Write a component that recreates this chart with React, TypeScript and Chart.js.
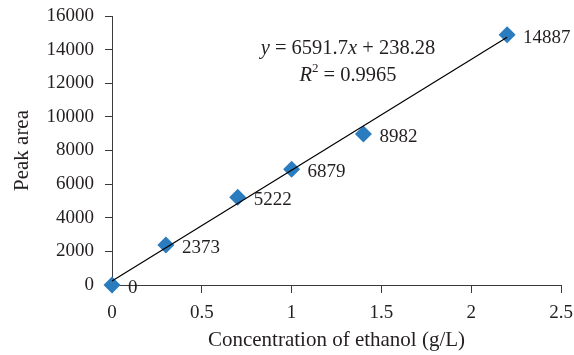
import React, { useEffect, useRef } from "react";
import { Chart, registerables } from "chart.js";

Chart.register(...registerables);

const concentrations = [0, 0.3, 0.7, 1.0, 1.4, 2.2];
const peakAreas = [0, 2373, 5222, 6879, 8982, 14887];
const pointLabels = ["0", "2373", "5222", "6879", "8982", "14887"];
const slope = 6591.7;
const intercept = 238.28;
const trendX = [0, 2.2];
const equationLine1 = [
  { t: "y", italic: true },
  { t: " = 6591.7", italic: false },
  { t: "x", italic: true },
  { t: " + 238.28", italic: false },
];
const equationLine2 = [
  { t: "R", italic: true },
  { t: "2", italic: false, sup: true },
  { t: " = 0.9965", italic: false },
];
const equationAnchor = { x: 1.314, y1: 14050, y2: 12440 };

const FONT = '"Liberation Serif", "DejaVu Serif", serif';
const TEXT = "#231f20";
const AXIS = "#3a3a3a";
const MARKER = "#2b7bbf";

const labelPlugin = {
  id: "labelsAndEquation",
  afterDatasetsDraw(chart: any) {
    const { ctx, scales } = chart;
    const xs = scales.x;
    const ys = scales.y;
    ctx.save();
    ctx.fillStyle = TEXT;
    ctx.font = `19px ${FONT}`;
    ctx.textAlign = "left";
    ctx.textBaseline = "middle";
    concentrations.forEach((c, i) => {
      const px = xs.getPixelForValue(c);
      const py = ys.getPixelForValue(peakAreas[i]);
      ctx.fillText(pointLabels[i], px + 16, py + 3);
    });
    const main = 20.5;
    const sup = 13;
    const drawLine = (segs: any[], cx: number, cy: number) => {
      const widths = segs.map((s) => {
        ctx.font = `${s.italic ? "italic " : ""}${s.sup ? sup : main}px ${FONT}`;
        return ctx.measureText(s.t).width;
      });
      const total = widths.reduce((a, b) => a + b, 0);
      let x = cx - total / 2;
      segs.forEach((s, i) => {
        ctx.font = `${s.italic ? "italic " : ""}${s.sup ? sup : main}px ${FONT}`;
        ctx.fillText(s.t, x, s.sup ? cy - 7 : cy);
        x += widths[i];
      });
    };
    const ex = xs.getPixelForValue(equationAnchor.x);
    drawLine(equationLine1, ex, ys.getPixelForValue(equationAnchor.y1));
    drawLine(equationLine2, ex, ys.getPixelForValue(equationAnchor.y2));
    ctx.restore();
  },
};

export default function App() {
  const ref = useRef<HTMLCanvasElement | null>(null);
  useEffect(() => {
    if (!ref.current) return;
    const chart = new Chart(ref.current, {
      type: "scatter",
      data: {
        datasets: [
          {
            label: "Trend",
            data: trendX.map((x) => ({ x, y: slope * x + intercept })),
            showLine: true,
            borderColor: "#000000",
            borderWidth: 1.2,
            pointRadius: 0,
            fill: false,
            clip: false,
          },
          {
            label: "Peak area",
            data: concentrations.map((x, i) => ({ x, y: peakAreas[i] })),
            pointStyle: "rectRot",
            pointRadius: 8.5,
            backgroundColor: MARKER,
            borderColor: MARKER,
            borderWidth: 0,
            clip: false,
          },
        ],
      },
      options: {
        responsive: false,
        animation: false,
        layout: { padding: { top: 16, right: 13, bottom: 0, left: 0 } },
        plugins: {
          legend: { display: false },
          tooltip: { enabled: false },
        },
        scales: {
          x: {
            type: "linear",
            min: 0,
            max: 2.5,
            ticks: {
              stepSize: 0.5,
              color: TEXT,
              font: { family: FONT, size: 19 },
              padding: 9,
              maxRotation: 0,
              callback: (v: any) => String(v),
            },
            grid: {
              drawOnChartArea: false,
              drawTicks: true,
              tickLength: 8,
              color: AXIS,
            },
            border: { display: true, color: AXIS, width: 1 },
            title: {
              display: true,
              text: "Concentration of ethanol (g/L)",
              color: TEXT,
              font: { family: FONT, size: 21 },
              padding: { top: 0, bottom: 1.5 },
            },
            afterFit: (s: any) => {
              s.height = 70;
              s.paddingLeft = 0;
              s.paddingRight = 0;
            },
          },
          y: {
            type: "linear",
            min: 0,
            max: 16000,
            ticks: {
              stepSize: 2000,
              color: TEXT,
              font: { family: FONT, size: 19 },
              padding: 11,
              callback: (v: any) => String(v),
            },
            grid: {
              drawOnChartArea: false,
              drawTicks: true,
              tickLength: 7,
              color: AXIS,
            },
            border: { display: true, color: AXIS, width: 1 },
            title: {
              display: true,
              text: "Peak area",
              color: TEXT,
              font: { family: FONT, size: 21 },
              padding: { top: 10, bottom: 0 },
            },
            afterFit: (s: any) => {
              s.width = 112;
              s.paddingTop = 0;
              s.paddingBottom = 0;
            },
          },
        },
      },
      plugins: [labelPlugin],
    });
    return () => chart.destroy();
  }, []);
  return (
    <div style={{ position: "fixed", left: 0, top: 0, width: 574, height: 355, background: "#fff" }}>
      <canvas ref={ref} width={574} height={355} />
    </div>
  );
}
